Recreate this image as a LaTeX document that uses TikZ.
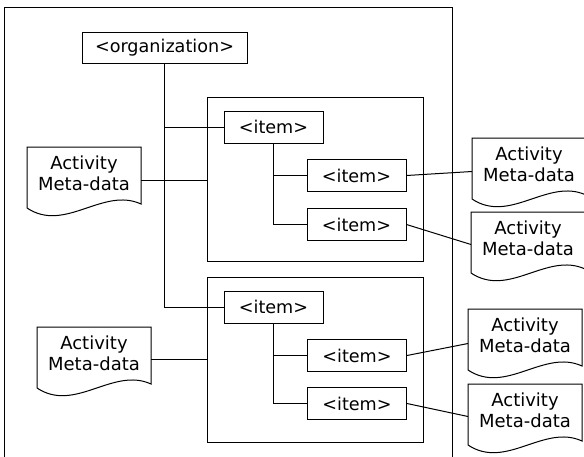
\documentclass[tikz,border=0pt]{standalone}
\usepackage{fontspec}
\setmainfont{DejaVu Sans}
\usetikzlibrary{calc}
\newcommand\docpath[1]{\draw (#1.north west) -- (#1.north east) -- ($(#1.south east)+(0,4)$)
  .. controls ($(#1.south east)+(-38,-13.5)$) and ($(#1.south west)+(38,33.3)$) .. ($(#1.south west)+(0,8)$) -- cycle;}
\begin{document}
\begin{tikzpicture}[x=1pt,y=-1pt,line width=1pt,
  tagbox/.style={draw,rectangle,inner sep=0pt,font=\fontsize{17.6}{21}\selectfont},
  itembox/.style={tagbox,minimum width=99pt,minimum height=32pt},
  cont/.style={draw,rectangle,inner sep=0pt,minimum width=216pt},
  doc/.style={rectangle,inner sep=0pt,align=center,font=\fontsize{18}{21}\selectfont,anchor=north west,minimum width=113pt,minimum height=52pt}]
\useasboundingbox (0,0) rectangle (584,456);
% outer frame
\draw (4,460) -- (4,7) -- (452,7) -- (452,460);
% containers
\node[cont,minimum height=164pt] (contA) at (315,179) {};
\node[cont,minimum height=165pt] (contB) at (315,359.5) {};
% tag boxes
\node[tagbox,minimum width=165pt,minimum height=31pt] (org) at (164.5,47.5) {<organization>};
\node[itembox] (itemA) at (273.5,127) {<item>};
\node[itembox] (subA1) at (356.5,175.5) {<item>};
\node[itembox] (subA2) at (356.5,224.5) {<item>};
\node[itembox] (itemB) at (273.5,307) {<item>};
\node[itembox] (subB1) at (357,355.5) {<item>};
\node[itembox] (subB2) at (357,403.5) {<item>};
% documents
\node[doc] (L1) at (27,147) {Activity\\Meta-data};
\node[doc] (L2) at (37,327) {Activity\\Meta-data};
\node[doc] (R1) at (472,138) {Activity\\Meta-data};
\node[doc] (R2) at (471,212) {Activity\\Meta-data};
\node[doc] (R3) at (468,309) {Activity\\Meta-data};
\node[doc] (R4) at (468,384) {Activity\\Meta-data};
\docpath{L1}\docpath{L2}\docpath{R1}\docpath{R2}\docpath{R3}\docpath{R4}
% connectors
\draw (org.south) |- (itemB.west);
\draw (org.south |- itemA.west) -- (itemA.west);
\coordinate (L1p) at ($(L1.east)+(0,7)$);
\coordinate (L2p) at ($(L2.east)+(0,6)$);
\draw (L1p) -- (L1p -| contA.west);
\draw (L2p) -- (L2p -| contB.west);
\draw (itemA.south) |- (subA2.west);
\draw (itemA.south |- subA1.west) -- (subA1.west);
\draw (itemB.south) |- (subB2.west);
\draw (itemB.south |- subB1.west) -- (subB1.west);
\draw (subA1.east) -- ($(R1.west)+(0,7)$);
\draw (subA2.east) -- ($(R2.west)+(0,6)$);
\draw (subB1.east) -- ($(R3.west)+(0,8)$);
\draw (subB2.east) -- ($(R4.west)+(0,6)$);
\end{tikzpicture}
\end{document}
